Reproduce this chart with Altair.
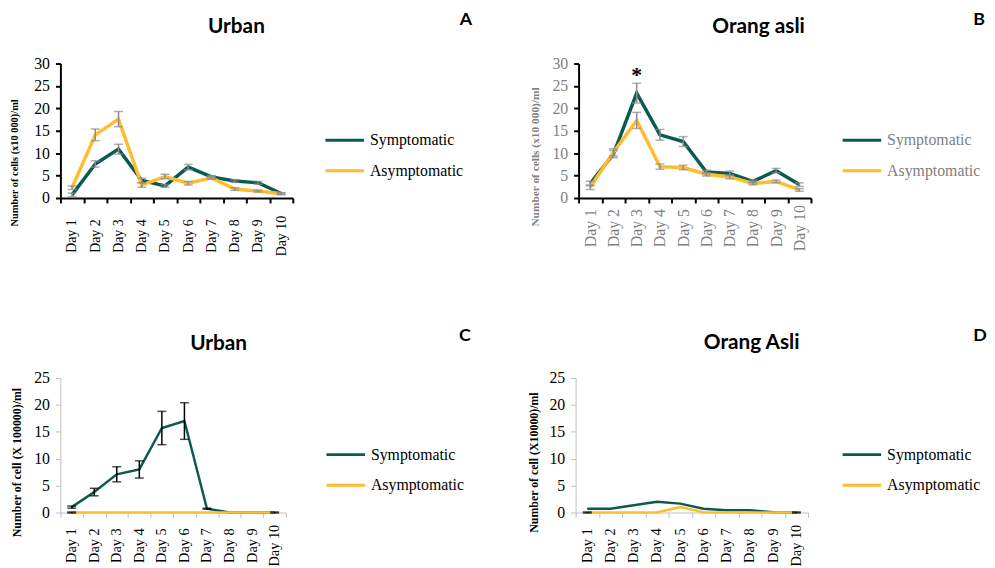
import altair as alt
import pandas as pd

days = ["Day 1", "Day 2", "Day 3", "Day 4", "Day 5", "Day 6", "Day 7", "Day 8", "Day 9", "Day 10"]
groups = ["Symptomatic", "Asymptomatic"]

# Panel A - Urban (x10 000)/ml
a_sym = [0.7, 7.6, 10.9, 3.9, 2.7, 6.9, 4.7, 3.8, 3.4, 1.0]
a_sym_err = [0.4, 0.7, 1.1, 0.5, 0.3, 0.6, 0.3, 0.3, 0.3, 0.2]
a_asym = [2.3, 14.1, 17.6, 2.9, 4.8, 3.3, 4.5, 2.0, 1.55, 0.95]
a_asym_err = [0.4, 1.3, 1.7, 0.5, 0.5, 0.4, 0.3, 0.3, 0.2, 0.2]

# Panel B - Orang asli (x10 000)/ml
b_sym = [3.25, 9.8, 23.4, 14.1, 12.6, 5.8, 5.5, 3.7, 6.1, 3.0]
b_sym_err = [0.5, 0.8, 2.2, 1.2, 1.1, 0.4, 0.5, 0.3, 0.5, 0.4]
b_asym = [2.4, 10.2, 17.3, 7.0, 6.8, 5.3, 4.7, 3.25, 3.7, 1.8]
b_asym_err = [0.5, 0.8, 1.8, 0.6, 0.5, 0.4, 0.4, 0.3, 0.3, 0.3]
b_star_day = ["Day 3"]
b_star_y = [27.5]

# Panel C - Urban (X 100000)/ml
c_sym = [1.0, 3.8, 7.1, 8.0, 15.7, 17.0, 0.7, 0.0, 0.0, 0.0]
c_sym_err = [0.2, 0.7, 1.4, 1.6, 3.1, 3.4, 0.1, 0.0, 0.0, 0.0]
c_asym = [0.0, 0.0, 0.0, 0.0, 0.0, 0.0, 0.0, 0.0, 0.0, 0.0]
c_asym_err = [0.1, 0.0, 0.0, 0.0, 0.0, 0.0, 0.0, 0.0, 0.0, 0.1]

# Panel D - Orang Asli (X10000)/ml
d_sym = [0.7, 0.7, 1.35, 2.0, 1.65, 0.7, 0.4, 0.4, 0.05, 0.0]
d_sym_err = [0.0, 0.0, 0.0, 0.0, 0.0, 0.0, 0.0, 0.0, 0.0, 0.0]
d_asym = [0.0, 0.0, 0.0, 0.0, 1.0, 0.05, 0.0, 0.0, 0.0, 0.0]
d_asym_err = [0.1, 0.0, 0.0, 0.0, 0.0, 0.0, 0.0, 0.0, 0.0, 0.1]

GREEN = "#0b5a51"
YELLOW = "#ffbd2e"
SERIF = "Liberation Serif"


def make_panel(sym, sym_err, asym, asym_err, p):
    rows = []
    for g, vals, errs in [("Symptomatic", sym, sym_err), ("Asymptomatic", asym, asym_err)]:
        for d, v, e in zip(days, vals, errs):
            rows.append({"Day": d, "Group": g, "Value": v, "Lo": v - e, "Hi": v + e, "Err": e})
    df = pd.DataFrame(rows)
    err_df = df[df["Err"] > 0]

    xscale = alt.Scale(type="band", domain=days, paddingInner=0, paddingOuter=0)
    x_axis = alt.Axis(
        title=None, labelAngle=-90, labelAlign="center", labelBaseline="middle",
        labelPadding=p["xlabpad"], labelFont=SERIF, labelFontSize=p["xfs"],
        labelColor=p["labcolor"], tickBand="extent", tickSize=5, ticks=True,
        tickColor=p["axcolor"], domainColor=p["axcolor"], domainWidth=p["axw"],
        tickWidth=p["axw"], grid=False, labelOverlap=False,
    )
    x = alt.X("Day:N", sort=days, scale=xscale, axis=x_axis)
    y_axis = alt.Axis(
        values=p["yvals"], grid=False, tickSize=5, tickColor=p["axcolor"],
        tickWidth=p["axw"], domainColor=p["axcolor"], domainWidth=p["axw"],
        labelFont=SERIF, labelFontSize=16, labelColor=p["labcolor"], labelPadding=6,
        labelOverlap=False,
        title=p["ytitle"], titleFont=SERIF, titleFontWeight="bold",
        titleFontSize=p["ytfs"], titleColor=p["ytcolor"], titleX=p["titleX"],
        titleY=p["titleY"], titleAngle=270, titleAlign="center", titleBaseline="middle",
    )
    yscale = alt.Scale(domain=[0, p["ymax"]], nice=False)

    def yenc(field):
        return alt.Y(field, scale=yscale, axis=y_axis)

    color = alt.Color(
        "Group:N",
        scale=alt.Scale(domain=groups, range=[GREEN, YELLOW]),
        sort=groups,
        legend=alt.Legend(
            orient="none", legendX=p["legX"], legendY=p["legY"], title=None,
            padding=0, symbolType="M-1.3,0H1.3", symbolSize=900,
            symbolStrokeWidth=3, labelFont=SERIF, labelFontSize=16,
            labelColor=p["labcolor"], labelOffset=9, rowPadding=6, labelLimit=300,
        ),
    )

    lines = alt.Chart(df).mark_line(strokeWidth=p["lw"]).encode(
        x=x, y=yenc("Value:Q"), color=color, detail="Group:N",
    )
    rules = alt.Chart(err_df).mark_rule(color=p["errcolor"], strokeWidth=1.5).encode(
        x=x, y=yenc("Lo:Q"), y2="Hi:Q"
    )
    cap_lo = alt.Chart(err_df).mark_tick(color=p["errcolor"], size=9, thickness=1.5).encode(
        x=x, y=yenc("Lo:Q")
    )
    cap_hi = alt.Chart(err_df).mark_tick(color=p["errcolor"], size=9, thickness=1.5).encode(
        x=x, y=yenc("Hi:Q")
    )
    title = alt.Chart(pd.DataFrame({"t": [p["title"]]})).mark_text(
        font="Lato", fontWeight="bold", fontSize=21, align="center", baseline="top",
        color="black",
    ).encode(text="t:N", x=alt.value(p["titlex"]), y=alt.value(p["titley"]))
    letter = alt.Chart(pd.DataFrame({"t": [p["letter"]]})).mark_text(
        font="Lato", fontWeight="bold", fontSize=18, align="center", baseline="top",
        color="black",
    ).encode(text="t:N", x=alt.value(p["letx"]), y=alt.value(p["lety"]))

    layers = [lines, rules, cap_lo, cap_hi]
    if p.get("star"):
        star = alt.Chart(pd.DataFrame({"Day": b_star_day, "Y": b_star_y, "t": ["*"]})).mark_text(
            font=SERIF, fontWeight="bold", fontSize=22, baseline="middle", color="black"
        ).encode(x=x, y=yenc("Y:Q"), text="t:N")
        layers.append(star)
    layers += [title, letter]
    return alt.layer(*layers).resolve_scale(color="independent").properties(
        width=p["w"], height=136
    )


pa = dict(ymax=30, yvals=[0, 5, 10, 15, 20, 25, 30], ytitle="Number of cells (x10 000)/ml",
          ytfs=10.5, ytcolor="black", titleX=-46, titleY=100, labcolor="black",
          axcolor="black", axw=2, lw=3.5, errcolor="#8c8c8c", xfs=14, xlabpad=33,
          legX=271, legY=61, title="Urban", titlex=178, titley=-48, letter="A",
          letx=410, lety=-52.5, w=235)
pb = dict(ymax=30, yvals=[0, 5, 10, 15, 20, 25, 30], ytitle="Number of cells (x10 000)/ml",
          ytfs=11.5, ytcolor="#7f7f7f", titleX=-44, titleY=94, labcolor="#7f7f7f",
          axcolor="black", axw=2, lw=3.5, errcolor="#8c8c8c", xfs=16, xlabpad=25,
          legX=270, legY=61, title="Orang asli", titlex=182, titley=-48, letter="B",
          letx=405, lety=-52.5, w=235, star=True)
pc = dict(ymax=25, yvals=[0, 5, 10, 15, 20, 25], ytitle="Number of cell (X 100000)/ml",
          ytfs=12, ytcolor="black", titleX=-44, titleY=85, labcolor="black",
          axcolor="#bfbfbf", axw=1, lw=2.5, errcolor="black", xfs=14.5, xlabpad=28,
          legX=272, legY=61, title="Urban", titlex=160, titley=-45.5, letter="C",
          letx=409, lety=-51.5, w=228)
pd_ = dict(ymax=25, yvals=[0, 5, 10, 15, 20, 25], ytitle="Number of cell (X10000)/ml",
           ytfs=12, ytcolor="black", titleX=-43, titleY=85, labcolor="black",
           axcolor="#bfbfbf", axw=1, lw=2.5, errcolor="black", xfs=14.5, xlabpad=28,
           legX=273, legY=61, title="Orang Asli", titlex=178, titley=-46.5, letter="D",
           letx=409, lety=-51.5, w=235)

A = make_panel(a_sym, a_sym_err, a_asym, a_asym_err, pa)
B = make_panel(b_sym, b_sym_err, b_asym, b_asym_err, pb)
C = make_panel(c_sym, c_sym_err, c_asym, c_asym_err, pc)
D = make_panel(d_sym, d_sym_err, d_asym, d_asym_err, pd_)

row1 = alt.hconcat(A, B, spacing=57).resolve_scale(x="independent", y="independent", color="independent")
row2 = alt.hconcat(C, D, spacing=57).resolve_scale(x="independent", y="independent", color="independent")

chart = alt.vconcat(row1, row2, spacing=71).resolve_scale(
    x="independent", y="independent", color="independent"
).properties(
    padding={"left": 2, "top": 0, "right": 0, "bottom": 0}
).configure_view(stroke=None)

chart.save("out.html", embed_options={"renderer": "svg", "actions": False})
